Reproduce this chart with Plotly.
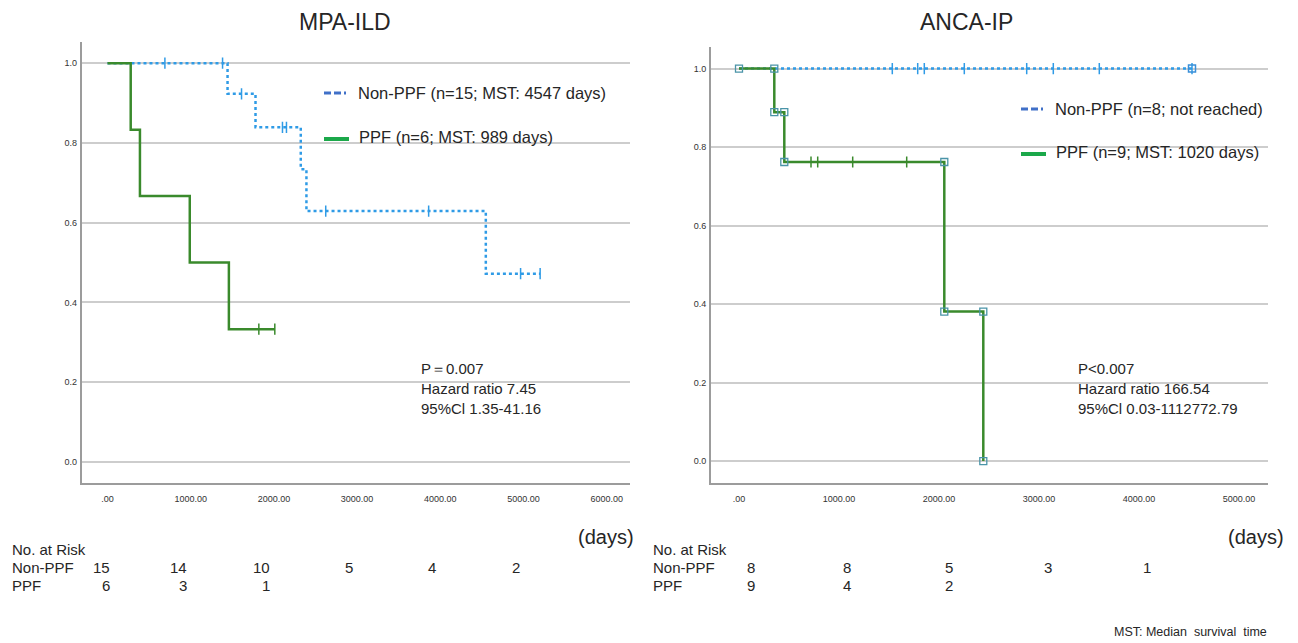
import plotly.graph_objects as go

W, H = 1298, 643
OFF = 8  # default page body margin
FW, FH = W - OFF, H - OFF


def px(x):
    return (x - OFF) / FW


def py(y):
    return 1 - (y - OFF) / FH


FONT = "Arial, 'Liberation Sans', sans-serif"
TICKFONT = "'Liberation Sans Narrow', 'Arial Narrow', Arial, 'Liberation Sans', sans-serif"

# ---------------- data ----------------
# MPA-ILD
mpa_nonppf_event_days = [1443, 1779, 2323, 2391, 4547]
mpa_nonppf_surv = [0.923, 0.839, 0.734, 0.629, 0.472]
mpa_nonppf_censor_days = [690, 1383, 1611, 2103, 2151, 2623, 3860, 4965, 5200]

mpa_ppf_event_days = [279, 390, 989, 1459]
mpa_ppf_surv = [0.833, 0.667, 0.5, 0.333]
mpa_ppf_censor_days = [1819, 2011]

# ANCA-IP
anca_nonppf_event_days = []
anca_nonppf_surv = []
anca_nonppf_censor_days = [1533, 1787, 1853, 2253, 2877, 3143, 3603, 4530]

anca_ppf_event_days = [353, 453, 2053, 2443]
anca_ppf_surv = [0.889, 0.762, 0.381, 0.0]
anca_ppf_censor_days = [720, 787, 1137, 1677]

# risk tables
mpa_risk_days = [0, 1000, 2000, 3000, 4000, 5000]
mpa_risk_nonppf = [15, 14, 10, 5, 4, 2]
mpa_risk_ppf = [6, 3, 1]
anca_risk_days = [0, 1000, 2000, 3000, 4000]
anca_risk_nonppf = [8, 8, 5, 3, 1]
anca_risk_ppf = [9, 4, 2]

mpa_xticks = [0, 1000, 2000, 3000, 4000, 5000, 6000]
anca_xticks = [0, 1000, 2000, 3000, 4000, 5000]
y_ticks = [0.0, 0.2, 0.4, 0.6, 0.8, 1.0]

legend_mpa = ["Non-PPF (n=15; MST: 4547 days)", "PPF (n=6; MST: 989 days)"]
legend_anca = ["Non-PPF (n=8; not reached)", "PPF (n=9; MST: 1020 days)"]
stats_mpa = ["P\uff1d0.007", "Hazard ratio 7.45", "95%Cl 1.35-41.16"]
stats_anca = ["P<0.007", "Hazard ratio 166.54", "95%Cl 0.03-1112772.79"]

BLUE_LINE = "#2f9be6"
GREEN_LINE = "#3a8a2c"
LEG_BLUE = "#4070c8"
LEG_GREEN = "#1ba84a"
SQ_COLOR = "#4a94a8"
TXT = "#262626"


def step_path(event_days, surv, censor_days):
    xs, ys = [0], [1.0]
    for d, s in zip(event_days, surv):
        xs.append(d)
        ys.append(s)
    end = max([0] + list(event_days) + list(censor_days))
    if end > xs[-1]:
        xs.append(end)
        ys.append(ys[-1])
    return xs, ys


def surv_at(day, event_days, surv):
    s = 1.0
    for d, v in zip(event_days, surv):
        if d <= day:
            s = v
    return s


def corners(xs, ys):
    cx, cy = [xs[0]], [ys[0]]
    for i in range(1, len(xs)):
        cx.append(xs[i]); cy.append(ys[i - 1])
        if ys[i] != ys[i - 1]:
            cx.append(xs[i]); cy.append(ys[i])
    return cx, cy


fig = go.Figure()


def add_curve(event_days, surv, censor_days, color, dash, xa, ya, width=2.5):
    xs, ys = step_path(event_days, surv, censor_days)
    fig.add_trace(go.Scatter(x=xs, y=ys, mode="lines", line=dict(color=color, width=width, dash=dash, shape="hv"),
                             xaxis=xa, yaxis=ya, showlegend=False, hoverinfo="skip"))
    cy = [surv_at(d, event_days, surv) for d in censor_days]
    fig.add_trace(go.Scatter(x=censor_days, y=cy, mode="markers",
                             marker=dict(symbol="line-ns-open", size=8, color=color,
                                         line=dict(color=color, width=1.5)),
                             xaxis=xa, yaxis=ya, showlegend=False, hoverinfo="skip"))
    return xs, ys


# MPA-ILD
add_curve(mpa_nonppf_event_days, mpa_nonppf_surv, mpa_nonppf_censor_days, BLUE_LINE, "dot", "x", "y")
add_curve(mpa_ppf_event_days, mpa_ppf_surv, mpa_ppf_censor_days, GREEN_LINE, "solid", "x", "y")

# ANCA-IP
bx, by = add_curve(anca_nonppf_event_days, anca_nonppf_surv, anca_nonppf_censor_days, BLUE_LINE, "dot", "x2", "y2")
fig.add_trace(go.Scatter(x=[bx[-1]], y=[by[-1]], mode="markers",
                         marker=dict(symbol="square-open", size=7, color="#3a8fd8",
                                     line=dict(color="#3a8fd8", width=1.5)),
                         xaxis="x2", yaxis="y2", showlegend=False, hoverinfo="skip"))
gx, gy = add_curve(anca_ppf_event_days, anca_ppf_surv, anca_ppf_censor_days, GREEN_LINE, "solid", "x2", "y2")
cx, cy = corners(gx, gy)
fig.add_trace(go.Scatter(x=cx, y=cy, mode="markers",
                         marker=dict(symbol="square-open", size=7, color=SQ_COLOR,
                                     line=dict(color=SQ_COLOR, width=1.3)),
                         xaxis="x2", yaxis="y2", showlegend=False, hoverinfo="skip"))

AX_LINE = "#9c9c9c"
GRID = "#cdcdcd"


def xaxis_cfg(domain, rng, ticks):
    return dict(domain=domain, range=rng, tickvals=ticks,
                ticktext=[".00" if t == 0 else f"{t:.2f}" for t in ticks],
                showgrid=False, zeroline=False, showline=True, linecolor=AX_LINE, linewidth=2,
                ticks="outside", ticklen=6, tickcolor="rgba(0,0,0,0)",
                tickfont=dict(family=TICKFONT, size=9, color="#333"), fixedrange=True)


def yaxis_cfg(domain, rng):
    return dict(domain=domain, range=rng, tickvals=y_ticks, ticktext=[f"{t:.1f}" for t in y_ticks],
                showgrid=True, gridcolor=GRID, gridwidth=1.5, zeroline=False, showline=True,
                linecolor=AX_LINE, linewidth=2, ticks="outside", ticklen=1, tickcolor="rgba(0,0,0,0)",
                tickfont=dict(family=TICKFONT, size=9, color="#333"), fixedrange=True)


fig.update_layout(
    width=FW, height=FH, margin=dict(l=0, r=0, t=0, b=0),
    paper_bgcolor="white", plot_bgcolor="white",
    font=dict(family=FONT, color=TXT),
    xaxis=dict(**xaxis_cfg([px(81.7), px(630)], [-310, 6280], mpa_xticks), anchor="y"),
    yaxis=dict(**yaxis_cfg([py(482.7), py(42)], [-0.052, 1.053]), anchor="x"),
    xaxis2=dict(**xaxis_cfg([px(711), px(1267.7)], [-280, 5287], anca_xticks), anchor="y2"),
    yaxis2=dict(**yaxis_cfg([py(482.7), py(47)], [-0.055, 1.055]), anchor="x2"),
)

ann = []
shapes = []


def text(x, y, s, size=15, xanchor="left", **kw):
    ann.append(dict(x=px(x), y=py(y), xref="paper", yref="paper", text=s, showarrow=False,
                    xanchor=xanchor, yanchor="middle", font=dict(family=FONT, size=size, color=TXT), **kw))


# titles
text(345, 22, "MPA-ILD", size=23, xanchor="center")
text(966, 22, "ANCA-IP", size=23, xanchor="center")

# legends


def legend(x0, y_rows, labels):
    shapes.append(dict(type="line", xref="paper", yref="paper", x0=px(x0), x1=px(x0 + 25),
                       y0=py(y_rows[0]), y1=py(y_rows[0]),
                       line=dict(color=LEG_BLUE, width=3, dash="7px,3px,7px,3px,2px")))
    shapes.append(dict(type="line", xref="paper", yref="paper", x0=px(x0), x1=px(x0 + 25),
                       y0=py(y_rows[1]), y1=py(y_rows[1]),
                       line=dict(color=LEG_GREEN, width=4)))
    text(x0 + 32, y_rows[0], labels[0], size=16.5)
    text(x0 + 33, y_rows[1] - 2, labels[1], size=16.5)


legend(324, [93, 139], legend_mpa)
legend(1021, [109, 154], legend_anca)

# stats
for i, s in enumerate(stats_mpa):
    text(419, 368 + 20 * i, s)
for i, s in enumerate(stats_anca):
    text(1076, 368 + 20 * i, s)

# risk tables
for x0 in (10, 651):
    text(x0, 549, "No. at Risk")
    text(x0, 567.5, "Non-PPF")
    text(x0, 585.5, "PPF")


def risk_row(days, counts, xref, y, anchor, shifts):
    for d, n, sh in zip(days, counts, shifts):
        ann.append(dict(x=d, y=py(y), xref=xref, yref="paper", text=str(n), showarrow=False,
                        xanchor=anchor, yanchor="middle", xshift=sh,
                        font=dict(family=FONT, size=15, color=TXT)))


mpa_shifts = [5, -2, -2, -2, -2, -2]
risk_row(mpa_risk_days, mpa_risk_nonppf, "x", 567.5, "right", mpa_shifts)
risk_row(mpa_risk_days, mpa_risk_ppf, "x", 585.5, "right", mpa_shifts)
anca_shifts = [12, 8, 10, 9, 8]
risk_row(anca_risk_days, anca_risk_nonppf, "x2", 567.5, "center", anca_shifts)
risk_row(anca_risk_days, anca_risk_ppf, "x2", 585.5, "center", anca_shifts)

text(606, 537, "(days)", size=20, xanchor="center")
text(1256, 537, "(days)", size=20, xanchor="center")
text(1190, 632, "MST: Median  survival  time", size=12.5, xanchor="center")

fig.update_layout(annotations=ann, shapes=shapes)
fig.write_html("out.html")
